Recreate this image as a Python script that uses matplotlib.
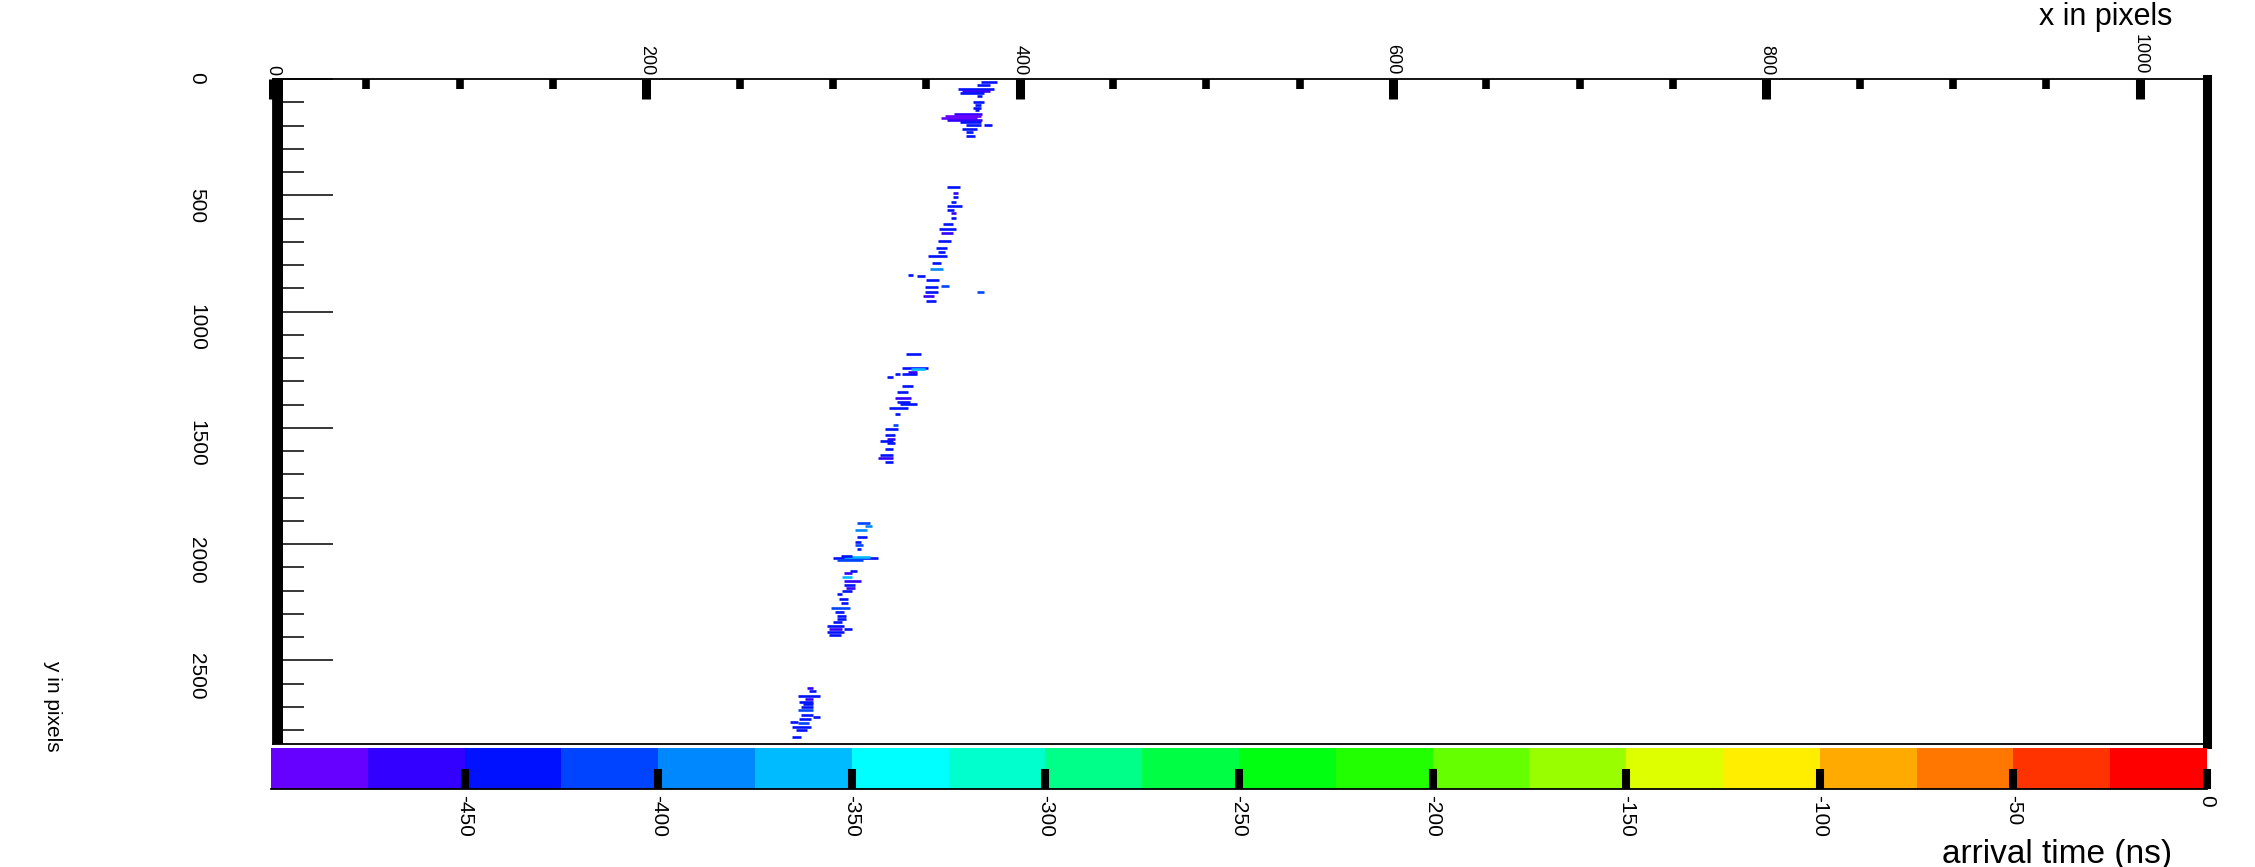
import numpy as np
import matplotlib
matplotlib.use("Agg")
import matplotlib.pyplot as plt
from matplotlib.colors import ListedColormap, BoundaryNorm
from matplotlib.cm import ScalarMappable
from matplotlib.ticker import MultipleLocator

plt.rcParams['font.family'] = ['Liberation Sans', 'DejaVu Sans']
plt.rcParams['axes.unicode_minus'] = False

# hit segments: pixel range in x, row in y, arrival time (ns)
x_start = [379, 377, 367, 369, 368, 377, 375, 376, 375, 376, 365, 360, 358, 361, 368,
           371, 381, 369, 371, 371,
           361, 364, 364, 363, 361, 361, 363, 363, 359, 357, 358, 356, 355, 356, 351,
           353, 352, 340, 345, 350, 349, 358, 349, 348, 350, 377,
           339, 337, 342, 333, 337, 329, 340, 337, 334, 333, 334, 336, 330, 333, 332,
           328, 328, 329, 325, 329, 328, 325, 324, 328,
           313, 317, 312, 313, 312, 312, 313, 300, 306, 302, 304, 309, 306, 305, 306,
           306, 307, 305, 302, 303, 304, 299, 301, 302, 302, 300, 297, 298, 306, 297, 298,
           286, 287, 281, 285, 282, 284, 283, 281, 283, 289, 282, 277, 281, 278, 280, 278]
x_end = [388, 384, 386, 384, 381, 380, 381, 379, 379, 378, 380, 379, 377, 380, 379,
         379, 385, 377, 375, 376,
         368, 367, 367, 366, 369, 365, 366, 366, 364, 366, 364, 363, 361, 360, 361,
         358, 359, 343, 349, 357, 356, 362, 356, 354, 355, 381,
         347, 351, 349, 336, 345, 332, 345, 343, 340, 342, 341, 345, 340, 336, 335,
         335, 333, 333, 332, 333, 332, 332, 332, 332,
         320, 321, 318, 318, 315, 316, 315, 324, 320, 316, 310, 313, 310, 310, 315,
         312, 312, 310, 305, 308, 308, 309, 306, 307, 307, 305, 306, 305, 310, 306, 304,
         289, 291, 293, 289, 289, 289, 289, 289, 289, 293, 288, 281, 287, 288, 286, 283]
y_pix = [13, 26, 43, 52, 60, 73, 99, 112, 125, 133, 151, 159, 168, 176, 185,
         198, 198, 215, 228, 245,
         464, 490, 507, 529, 546, 563, 576, 598, 624, 645, 662, 697, 727, 744, 761,
         791, 817, 843, 847, 864, 894, 890, 916, 933, 955, 916,
         1183, 1243, 1247, 1269, 1269, 1281, 1260, 1320, 1346, 1372, 1389, 1398, 1415, 1441, 1488,
         1505, 1531, 1548, 1557, 1565, 1591, 1617, 1630, 1647,
         1909, 1922, 1939, 1969, 1991, 2004, 2021, 2060, 2056, 2068, 2051, 2116, 2124, 2141, 2159,
         2176, 2189, 2202, 2215, 2236, 2253, 2275, 2292, 2309, 2322, 2335, 2352, 2365, 2365, 2378, 2391,
         2619, 2632, 2653, 2666, 2679, 2688, 2700, 2713, 2735, 2743, 2752, 2765, 2769, 2786, 2799, 2829]
arrival = [-440, -440, -440, -460, -440, -440, -440, -440, -440, -440, -460, -490, -490, -460, -440,
           -440, -440, -440, -440, -440,
           -440, -460, -440, -440, -440, -440, -460, -440, -440, -440, -460, -440, -440, -440, -440,
           -440, -390, -440, -440, -440, -440, -420, -440, -460, -440, -420,
           -440, -440, -370, -440, -440, -440, -460, -440, -440, -460, -440, -440, -440, -440, -420,
           -440, -440, -460, -440, -440, -440, -440, -460, -440,
           -420, -390, -380, -440, -440, -420, -440, -440, -370, -420, -440, -440, -460, -370, -460,
           -440, -460, -440, -440, -440, -440, -420, -440, -440, -440, -440, -440, -460, -440, -440, -440,
           -460, -440, -440, -460, -440, -440, -440, -420, -440, -440, -440, -440, -420, -440, -440, -440]

# colour scale: 20 bins of 25 ns from -500 to 0
bin_edges = np.arange(-500, 1, 25)
bin_colors = ['#6600ff', '#3300ff', '#0011ff', '#0044ff', '#0088ff', '#00bbff', '#00ffff',
              '#00ffcc', '#00ff88', '#00ff44', '#00ff11', '#22ff00', '#66ff00', '#99ff00',
              '#ddff00', '#ffee00', '#ffaa00', '#ff7700', '#ff3300', '#ff0000']
cbar_ticks = [-450, -400, -350, -300, -250, -200, -150, -100, -50, 0]

x_ticks = [0, 200, 400, 600, 800, 1000]
y_ticks = [0, 500, 1000, 1500, 2000, 2500]

W, H = 2255, 867
fig = plt.figure(figsize=(W / 100, H / 100), dpi=100)
ax = fig.add_axes([273 / W, 1 - 744 / H, (2207 - 273) / W, (744 - 79) / H])

cmap = ListedColormap(bin_colors)
norm = BoundaryNorm(bin_edges, cmap.N)

ax.hlines(y_pix, x_start, x_end, colors=cmap(norm(np.array(arrival))), linewidth=1.9)

ax.set_xlim(0, 1036)
ax.set_ylim(2860, 0)

ax.xaxis.tick_top()
ax.set_xticks(x_ticks)
ax.set_xticklabels([str(v) for v in x_ticks])
ax.xaxis.set_minor_locator(MultipleLocator(50))
ax.tick_params(axis='x', which='major', direction='in', length=14.4, width=6.5,
               labelrotation=-90, labelsize=13, pad=3, top=True, bottom=False)
ax.tick_params(axis='x', which='minor', direction='in', length=7.5, width=5.5,
               top=True, bottom=False)

ax.set_yticks(y_ticks)
ax.set_yticklabels([str(v) for v in y_ticks])
ax.yaxis.set_minor_locator(MultipleLocator(100))
ax.tick_params(axis='y', which='major', direction='in', length=43, width=1.1,
               labelrotation=-90, labelsize=15, pad=48, right=False)
ax.tick_params(axis='y', which='minor', direction='in', length=22, width=1.1, right=False)

for s in ['top', 'bottom', 'left']:
    ax.spines[s].set_linewidth(1.3)
ax.spines['right'].set_linewidth(6.5)
ax.plot([0.0024, 0.0024], [0, 1], transform=ax.transAxes, color='black',
        linewidth=7.2, solid_capstyle='butt', clip_on=False)

# colour bar under the frame
cax = fig.add_axes([271 / W, 1 - 789 / H, (2207 - 271) / W, 41 / H])
cbar = fig.colorbar(ScalarMappable(norm=norm, cmap=cmap), cax=cax,
                    orientation='horizontal', ticks=cbar_ticks)
cbar.minorticks_off()
cbar.outline.set_linewidth(0)
cbar.ax.set_xticklabels([str(v) for v in cbar_ticks])
cbar.ax.tick_params(direction='in', length=14.4, width=5.8, labelrotation=-90,
                    labelsize=15, pad=4, color='black')
cax.plot([0, 1], [0, 0], transform=cax.transAxes, color='black', linewidth=1.3,
         clip_on=False)

fig.text(2172 / W, 1 - 25 / H, 'x in pixels', ha='right', va='baseline', fontsize=22)
fig.text(2172 / W, 1 - 854 / H, 'arrival time (ns)', ha='right', va='center', fontsize=24)
fig.text(53 / W, 1 - 706 / H, 'y in pixels', ha='center', va='center', rotation=-90,
         fontsize=15)

fig.savefig('out.png', dpi=100)
